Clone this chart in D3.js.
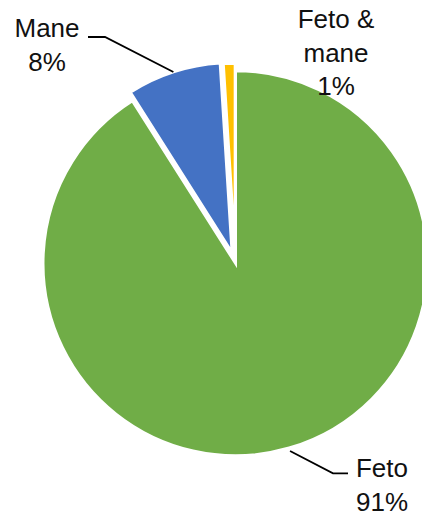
<!DOCTYPE html>
<html>
<head>
<meta charset="utf-8">
<script src="https://cdn.jsdelivr.net/npm/d3@7"></script>
<style>
  html, body { margin: 0; padding: 0; background: #fff; }
  svg { display: block; }
  text { font-family: "Liberation Sans", Arial, Helvetica, sans-serif; }
</style>
</head>
<body>
<svg id="chart" width="422" height="515"></svg>
<script>
// Share of cases by category (percent)
const categories = ["Feto", "Mane", "Feto & mane"];
const values = [91, 8, 1];
const labelLines = [["Feto"], ["Mane"], ["Feto &", "mane"]];

const colors = d3.scaleOrdinal()
  .domain(categories)
  .range(["#70AD47", "#4472C4", "#FFC000"]);

const width = 422, height = 515;
const cx = 235.5, cy = 263.2;
const R = 192.5;

// pulled-out slices
const explode = { "Mane": 11, "Feto & mane": 10 };

const svg = d3.select("#chart");
const g = svg.append("g").attr("transform", `translate(${cx},${cy})`);

const pie = d3.pie().sort(null).value(d => d.value).startAngle(0).endAngle(2 * Math.PI);
const rows = categories.map((c, i) => ({ name: c, value: values[i], lines: labelLines[i] }));
const arcs = pie(rows);

const radiusOf = d => (explode[d.data.name] ? R - 2.5 : R);
const arc = d3.arc().innerRadius(0).outerRadius(radiusOf);

const offset = d => {
  const e = explode[d.data.name] || 0;
  const a = (d.startAngle + d.endAngle) / 2;
  return [e * Math.sin(a), -e * Math.cos(a)];
};

g.selectAll("path.slice")
  .data(arcs)
  .join("path")
  .attr("class", "slice")
  .attr("transform", d => `translate(${offset(d)})`)
  .attr("d", arc)
  .attr("fill", d => colors(d.data.name))
  .attr("stroke", "#fff")
  .attr("stroke-width", 3);

// label placement (text anchor centre, first baseline) and leader geometry
const fmt = v => `${v}%`;
const labelLayout = {
  "Mane":        { x: 47,  y: 37,  leaderY: 37,    elbowDx: 58,  endDx: 41,  extra: 0 },
  "Feto & mane": { x: 336, y: 28 },
  "Feto":        { x: 382, y: 477, leaderY: 473.3, elbowDx: -49, endDx: -34, extra: 3 }
};
const lineHeight = 33.5;

// leader lines from the slice's outer arc midpoint
arcs.forEach(d => {
  const L = labelLayout[d.data.name];
  if (L.leaderY === undefined) return;
  const a = (d.startAngle + d.endAngle) / 2;
  const [ox, oy] = offset(d);
  const r = radiusOf(d) + L.extra;
  const p0 = [cx + ox + r * Math.sin(a), cy + oy - r * Math.cos(a)];
  const p1 = [L.x + L.elbowDx, L.leaderY];
  const p2 = [L.x + L.endDx, L.leaderY];
  svg.append("path")
    .attr("d", d3.line()([p0, p1, p2]))
    .attr("fill", "none")
    .attr("stroke", "#000")
    .attr("stroke-width", 1.8);
});

// category labels
arcs.forEach(d => {
  const L = labelLayout[d.data.name];
  const lines = d.data.lines.concat([fmt(d.data.value)]);
  const t = svg.append("text")
    .attr("x", L.x)
    .attr("y", L.y)
    .attr("text-anchor", "middle")
    .attr("font-size", 26)
    .attr("fill", "#111");
  lines.forEach((ln, i) => {
    t.append("tspan")
      .attr("x", L.x)
      .attr("dy", i === 0 ? 0 : lineHeight)
      .text(ln);
  });
});
</script>
</body>
</html>
